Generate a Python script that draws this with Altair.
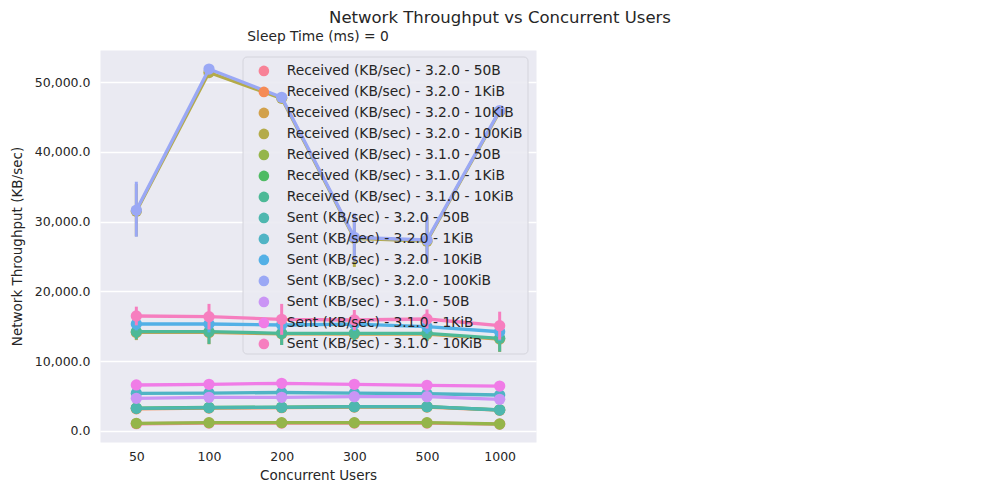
import altair as alt
import pandas as pd

users = ["50", "100", "200", "300", "500", "1000"]

series = [
    "Received (KB/sec) - 3.2.0 - 50B",
    "Received (KB/sec) - 3.2.0 - 1KiB",
    "Received (KB/sec) - 3.2.0 - 10KiB",
    "Received (KB/sec) - 3.2.0 - 100KiB",
    "Received (KB/sec) - 3.1.0 - 50B",
    "Received (KB/sec) - 3.1.0 - 1KiB",
    "Received (KB/sec) - 3.1.0 - 10KiB",
    "Sent (KB/sec) - 3.2.0 - 50B",
    "Sent (KB/sec) - 3.2.0 - 1KiB",
    "Sent (KB/sec) - 3.2.0 - 10KiB",
    "Sent (KB/sec) - 3.2.0 - 100KiB",
    "Sent (KB/sec) - 3.1.0 - 50B",
    "Sent (KB/sec) - 3.1.0 - 1KiB",
    "Sent (KB/sec) - 3.1.0 - 10KiB",
]

colors = [
    "#f88297", "#f58b56", "#d2a14b", "#b4ab4a", "#95b54a", "#4fbb64", "#4db997",
    "#4eb7af", "#50b4c5", "#53b0e6", "#9aa8f5", "#ca95f5", "#f07ce7", "#f67ebf",
]

means = [
    [1000, 1100, 1100, 1100, 1100, 950],
    [3150, 3250, 3300, 3400, 3400, 2950],
    [14100, 14100, 13900, 13850, 13850, 13150],
    [31500, 51400, 47700, 27600, 27200, 45800],
    [1060, 1150, 1150, 1150, 1150, 960],
    [3250, 3330, 3380, 3450, 3450, 3000],
    [14210, 14210, 13980, 13980, 13980, 13260],
    [3210, 3300, 3360, 3450, 3450, 2970],
    [5370, 5400, 5480, 5400, 5300, 5120],
    [15310, 15310, 15170, 15300, 14930, 14200],
    [31650, 51900, 47850, 27750, 27370, 45930],
    [4650, 4790, 4790, 4880, 4880, 4500],
    [6560, 6660, 6800, 6660, 6510, 6410],
    [16460, 16360, 15980, 15890, 16030, 15070],
]

lows = [
    [940, 1040, 1040, 1040, 1040, 890],
    [3070, 3170, 3220, 3320, 3320, 2870],
    [13000, 12400, 12300, 12900, 12850, 11300],
    [27900, 51100, 47400, 23500, 24000, 45500],
    [1010, 1100, 1100, 1100, 1100, 910],
    [3170, 3250, 3300, 3370, 3370, 2920],
    [13100, 12450, 12300, 12900, 12900, 11340],
    [3130, 3220, 3280, 3370, 3370, 2890],
    [5270, 5300, 5380, 5300, 5200, 5020],
    [14400, 14100, 13870, 14300, 13930, 12900],
    [27840, 51600, 47550, 24260, 24000, 45630],
    [4570, 4710, 4710, 4800, 4800, 4420],
    [6460, 6560, 6700, 6560, 6410, 6310],
    [15120, 14520, 13760, 14460, 14660, 13060],
]

highs = [
    [1060, 1160, 1160, 1160, 1160, 1010],
    [3230, 3330, 3380, 3480, 3480, 3030],
    [15200, 15800, 15500, 14800, 14850, 15000],
    [35400, 51700, 48000, 31000, 30700, 46100],
    [1110, 1200, 1200, 1200, 1200, 1010],
    [3330, 3410, 3460, 3530, 3530, 3080],
    [15320, 15970, 15660, 15060, 15060, 15180],
    [3290, 3380, 3440, 3530, 3530, 3050],
    [5470, 5500, 5580, 5500, 5400, 5220],
    [16220, 16520, 16470, 16300, 15930, 15500],
    [35730, 52200, 48150, 31200, 30960, 46230],
    [4730, 4870, 4870, 4960, 4960, 4580],
    [6660, 6760, 6900, 6760, 6610, 6510],
    [17800, 18200, 18200, 17320, 17400, 17080],
]

main_title = "Network Throughput vs Concurrent Users"
facet_title = "Sleep Time (ms) = 0"
x_title = "Concurrent Users"
y_title = "Network Throughput (KB/sec)"
y_ticks = [0, 10000, 20000, 30000, 40000, 50000]

rows = []
for s, m, lo, hi in zip(series, means, lows, highs):
    for u, a, b, c in zip(users, m, lo, hi):
        rows.append({"series": s, "users": u, "value": a, "lo": b, "hi": c})
df = pd.DataFrame(rows)

TXT = "#262626"
FONT = "DejaVu Sans"

x_scale = alt.Scale(type="point", padding=0.5, domain=users)
y_scale = alt.Scale(domain=[-1622, 54635], nice=False, zero=False)

x_axis = alt.Axis(
    title=x_title, labelAngle=0, domain=False, ticks=False, tickSize=0, grid=False,
    labelFontSize=12.5, labelColor=TXT, labelPadding=8, titleFontSize=13.5,
    titleColor=TXT, titleFontWeight="normal", titlePadding=6, labelFont=FONT, titleFont=FONT,
)
y_axis = alt.Axis(
    title=y_title, values=y_ticks, format=",.1f", domain=False, ticks=False, tickSize=0,
    grid=True, gridColor="white", gridWidth=1.3, labelFontSize=12.5, labelColor=TXT,
    labelPadding=10, titleFontSize=13.5, titleColor=TXT, titleFontWeight="normal",
    titlePadding=10, labelFont=FONT, titleFont=FONT,
)

legend = alt.Legend(
    orient="none", legendX=143, legendY=7, title=None, symbolType="circle",
    symbolSize=113, symbolStrokeWidth=0, symbolOpacity=1, labelFontSize=13.8,
    labelColor=TXT, labelFont=FONT, labelLimit=400, padding=7, symbolOffset=7,
    labelOffset=16, rowPadding=6, fillColor="transparent", strokeColor="transparent",
)

color_enc = alt.Color("series:N", scale=alt.Scale(domain=series, range=colors), legend=legend)

# legend frame drawn behind the data lines (as in the reference)
frame = alt.Chart(pd.DataFrame({"f": [0]})).mark_rect(
    fill="#eaeaf2", fillOpacity=0.9, stroke="#d4d4dc", strokeWidth=1, cornerRadius=4
).encode(x=alt.value(143), x2=alt.value(428), y=alt.value(7), y2=alt.value(304))

layers = [frame]
for s, col in zip(series, colors):
    base = alt.Chart().transform_filter(alt.datum.series == s)
    rule = base.mark_rule(strokeWidth=3, color=col).encode(
        x=alt.X("users:N", sort=users, scale=x_scale, axis=x_axis),
        y=alt.Y("lo:Q", scale=y_scale, axis=y_axis),
        y2="hi:Q",
    )
    line = base.mark_line(strokeWidth=3.3, color=col).encode(
        x=alt.X("users:N", sort=users, scale=x_scale, axis=x_axis),
        y=alt.Y("value:Q", scale=y_scale, axis=y_axis),
    )
    pts = base.mark_circle(size=127, opacity=1).encode(
        x=alt.X("users:N", sort=users, scale=x_scale, axis=x_axis),
        y=alt.Y("value:Q", scale=y_scale, axis=y_axis),
        color=color_enc,
    )
    layers += [rule, line, pts]

titles = pd.DataFrame({"t": [main_title]})
ftitles = pd.DataFrame({"t": [facet_title]})
title_mark = alt.Chart(titles).mark_text(
    font=FONT, fontSize=16.5, color=TXT, align="center", baseline="middle"
).encode(x=alt.value(400), y=alt.value(-32), text="t:N")
ftitle_mark = alt.Chart(ftitles).mark_text(
    font=FONT, fontSize=13.8, color=TXT, align="center", baseline="middle"
).encode(x=alt.value(218), y=alt.value(-13), text="t:N")

chart = alt.layer(*layers, title_mark, ftitle_mark, data=df).properties(
    width=436,
    height=392,
    padding={"left": 100, "top": 50, "right": 464, "bottom": 58},
    autosize=alt.AutoSizeParams(type="none"),
    background="white",
).configure_view(fill="#eaeaf2", stroke="transparent")

chart.save("out.html", embed_options={"renderer": "svg", "actions": False})
